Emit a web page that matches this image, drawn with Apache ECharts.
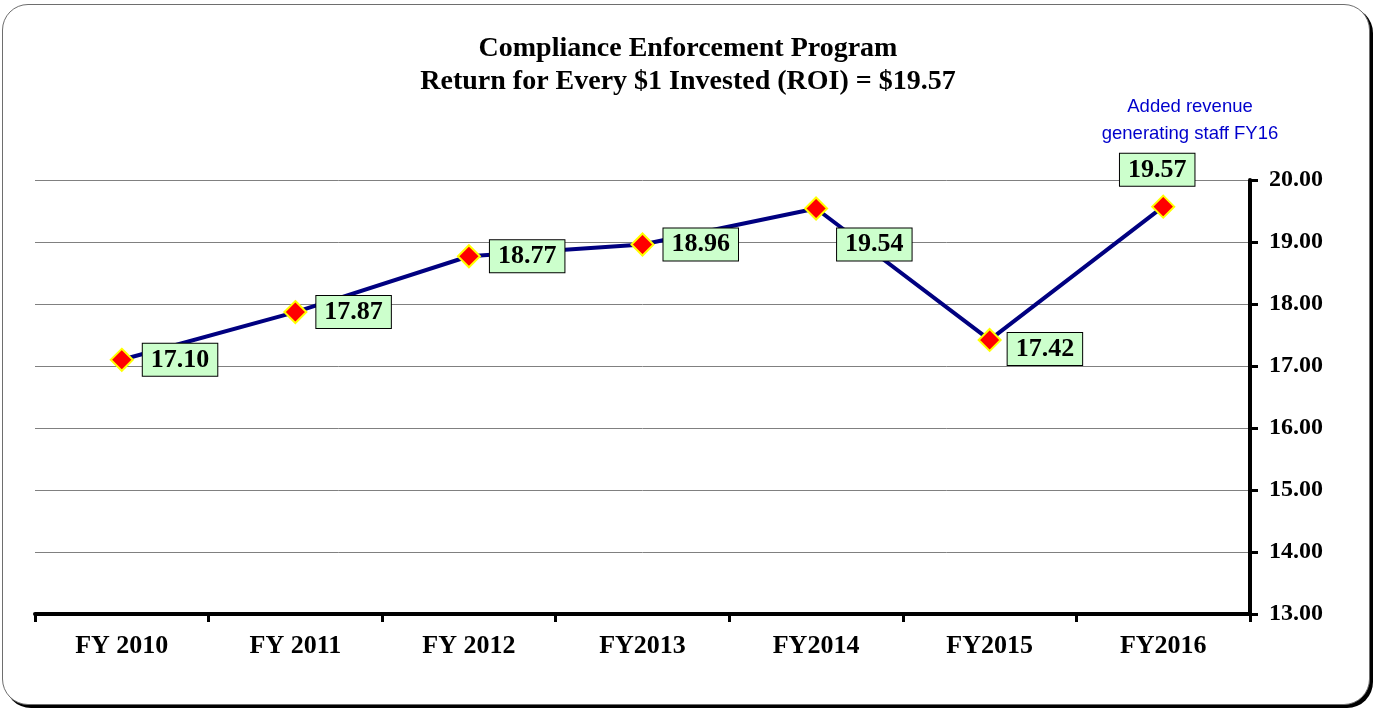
<!DOCTYPE html>
<html>
<head>
<meta charset="utf-8">
<script src="https://cdn.jsdelivr.net/npm/echarts@6/dist/echarts.min.js"></script>
<style>
  html, body { margin: 0; padding: 0; background: #fff; }
  #frame {
    position: absolute; left: 2px; top: 4px; width: 1366px; height: 699px;
    border: 1.5px solid #6e6e6e; border-radius: 26px;
    box-shadow: 3px 3px 0 0 #000; background: #fff;
  }
  #chart { position: absolute; left: 0; top: 0; width: 1376px; height: 712px; }
</style>
</head>
<body>
<div id="frame"></div>
<div id="chart"></div>
<script>
// Compliance Enforcement Program ROI by fiscal year
const categories = ['FY 2010', 'FY 2011', 'FY 2012', 'FY2013', 'FY2014', 'FY2015', 'FY2016'];
const roiValues = [17.10, 17.87, 18.77, 18.96, 19.54, 17.42, 19.57];
const titleLines = ['Compliance Enforcement Program', 'Return for Every $1 Invested (ROI) = $19.57'];
const noteLines = ['Added revenue', 'generating staff FY16'];
const yMin = 13, yMax = 20, yStep = 1;

const serif = '"Liberation Serif", "Times New Roman", serif';

// where each value box sits relative to its marker
const labelPlacement = [
  { position: 'right', distance: 9, offset: [0, 0] },
  { position: 'right', distance: 9, offset: [0, 0] },
  { position: 'right', distance: 9, offset: [0, 0] },
  { position: 'right', distance: 9, offset: [0, 0] },
  { position: 'right', distance: 9, offset: [0, 36] },
  { position: 'right', distance: 6, offset: [0, 9] },
  { position: 'top', distance: 9, offset: [-6, 0] }
];

const seriesData = roiValues.map((v, i) => ({
  value: v,
  label: labelPlacement[i]
}));

const chart = echarts.init(document.getElementById('chart'), null, { renderer: 'canvas' });

chart.setOption({
  backgroundColor: 'transparent',
  animation: false,
  title: [
    {
      text: titleLines.join('\n'),
      left: 'center', top: 27,
      textStyle: { fontFamily: serif, fontWeight: 'bold', fontSize: 28, color: '#000', lineHeight: 33 }
    },
    {
      text: noteLines.join('\n'),
      left: 1185, top: 88, textAlign: 'center',
      textStyle: { fontFamily: '"Liberation Sans", Arial, sans-serif', fontWeight: 'normal', fontSize: 18.5, color: '#0000cc', lineHeight: 27 }
    }
  ],
  grid: { left: 35, right: 126, top: 180, bottom: 98, containLabel: false },
  xAxis: {
    type: 'category',
    data: categories,
    boundaryGap: true,
    axisLine: { show: true, onZero: false, lineStyle: { color: '#000', width: 4 } },
    axisTick: { show: true, inside: false, length: 8, lineStyle: { color: '#000', width: 3 } },
    axisLabel: { margin: 19, fontFamily: serif, fontWeight: 'bold', fontSize: 26, color: '#000' },
    splitLine: { show: false }
  },
  yAxis: {
    type: 'value',
    position: 'right',
    min: yMin, max: yMax, interval: yStep,
    axisLine: { show: true, lineStyle: { color: '#000', width: 4 } },
    axisTick: { show: true, inside: false, length: 8, lineStyle: { color: '#000', width: 3 } },
    axisLabel: {
      margin: 19, fontFamily: serif, fontWeight: 'bold', fontSize: 24, color: '#000',
      formatter: v => v.toFixed(2)
    },
    splitLine: { show: true, lineStyle: { color: '#808080', width: 1 } }
  },
  series: [{
    type: 'line',
    data: seriesData,
    symbol: 'diamond',
    symbolSize: 22,
    itemStyle: { color: '#ff0000', borderColor: '#ffff00', borderWidth: 2 },
    lineStyle: { color: '#000080', width: 4 },
    z: 3,
    label: {
      show: true,
      formatter: p => p.value.toFixed(2),
      fontFamily: serif, fontWeight: 'bold', fontSize: 26, color: '#000',
      backgroundColor: '#ccffcc', borderColor: '#000', borderWidth: 1,
      padding: [4, 8, 2, 8]
    }
  }]
});
</script>
</body>
</html>
